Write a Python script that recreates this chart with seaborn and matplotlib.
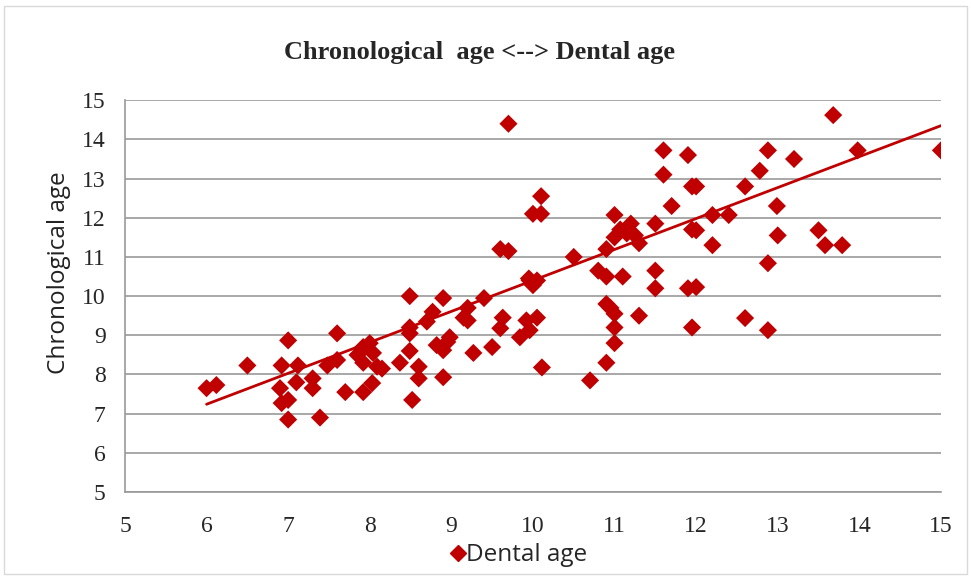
import matplotlib
matplotlib.use("Agg")
import matplotlib.pyplot as plt
import seaborn as sns
import numpy as np
import pandas as pd
from matplotlib.patches import Rectangle
from matplotlib.lines import Line2D

dental_age = [
    6.0, 6.12, 6.5, 6.92, 7.0, 7.12, 7.48, 7.6, 7.6, 6.9, 7.1, 7.3, 7.3, 6.92, 7.0, 7.0, 7.39,
    7.7, 7.92, 8.03, 7.92, 8.0, 8.04, 7.92, 8.09, 8.15, 7.85,
    8.49, 8.49, 8.49, 8.49, 8.37, 8.6, 8.6, 8.52, 8.9, 8.9, 8.77, 8.7, 8.82, 8.9, 8.98, 8.95,
    9.2, 9.2, 9.15, 9.4, 9.27, 9.5, 9.63, 9.6, 9.84, 9.96, 9.92, 10.05, 9.96, 10.0, 10.11,
    9.7, 9.6, 9.7, 10.0, 10.1, 10.1, 10.5, 9.95, 10.05,
    11.0, 11.07, 11.2, 11.3, 11.0, 10.9, 11.5, 11.7, 11.95, 11.95, 10.8, 10.9, 11.1, 11.5, 11.5,
    11.9, 10.9, 10.95, 11.0, 11.3, 11.0, 11.0, 10.9, 11.95, 10.7,
    11.9, 12.88, 13.2, 12.78, 12.6, 12.0, 12.2, 12.4, 12.99, 12.0, 12.2, 13.0, 13.5, 13.58, 13.79,
    12.88, 12.0, 12.6, 12.88, 13.68, 13.98, 15.0, 11.6, 11.6, 11.15, 11.25,
]
chronological_age = [
    7.65, 7.73, 8.23, 8.23, 8.87, 8.23, 8.23, 9.05, 8.37, 7.65, 7.8, 7.9, 7.65, 7.27, 7.35, 6.85, 6.9,
    7.55, 7.55, 7.78, 8.7, 8.8, 8.55, 8.3, 8.2, 8.15, 8.5,
    10.0, 9.2, 9.05, 8.6, 8.3, 8.2, 7.9, 7.35, 7.93, 9.95, 9.6, 9.35, 8.75, 8.62, 8.95, 8.83,
    9.7, 9.38, 9.45, 9.95, 8.55, 8.7, 9.45, 9.18, 8.95, 9.13, 9.38, 9.45, 10.4, 10.28, 8.18,
    14.4, 11.2, 11.15, 12.1, 12.55, 12.1, 11.0, 10.45, 10.4,
    12.07, 11.7, 11.85, 11.35, 11.5, 11.2, 11.85, 12.3, 12.8, 11.7, 10.65, 10.5, 10.5, 10.65, 10.2,
    10.2, 9.8, 9.7, 9.55, 9.5, 9.2, 8.8, 8.3, 9.2, 7.85,
    13.6, 13.72, 13.5, 13.2, 12.8, 12.8, 12.07, 12.07, 12.3, 11.68, 11.3, 11.55, 11.68, 11.3, 11.3,
    10.84, 10.23, 9.44, 9.13, 14.62, 13.72, 13.72, 13.72, 13.1, 11.6, 11.55,
]
# linear trendline shown in the chart
trend_slope = 0.79
trend_intercept = 2.5
x_ticks = [5, 6, 7, 8, 9, 10, 11, 12, 13, 14, 15]
y_ticks = [5, 6, 7, 8, 9, 10, 11, 12, 13, 14, 15]

df = pd.DataFrame({"Dental age": dental_age, "Chronological age": chronological_age})
trend_x = np.array([min(dental_age), max(dental_age)])
trend_df = pd.DataFrame({"x": trend_x, "y": trend_intercept + trend_slope * trend_x})

sns.set_style("white")
red = "#C00000"
fig = plt.figure(figsize=(9.71, 5.76), dpi=100)
ax = fig.add_axes([0.1287, 0.1458, 0.969 - 0.1287, 0.826 - 0.1458])

sns.scatterplot(data=df, x="Dental age", y="Chronological age", ax=ax,
                marker="D", color=red, s=85, edgecolor="none", zorder=3, legend=False)
sns.lineplot(data=trend_df, x="x", y="y", ax=ax, color=red, lw=2, zorder=4, legend=False)

ax.set_xlim(5, 15)
ax.set_ylim(5, 15)
ax.set_xticks(x_ticks)
ax.set_yticks(y_ticks)
ax.set_xticklabels([str(t) for t in x_ticks], family="Liberation Serif", fontsize=17)
ax.set_yticklabels([str(t) for t in y_ticks], family="Liberation Serif", fontsize=17)
ax.tick_params(axis="both", direction="out", length=5, width=1, color="#888888")
ax.tick_params(axis="x", pad=12)
ax.tick_params(axis="y", length=6, pad=8)
ax.yaxis.grid(True, color="#999999", lw=1.2)
ax.xaxis.grid(False)
ax.set_axisbelow(True)
for s in ["top", "right"]:
    ax.spines[s].set_visible(False)
for s in ["left", "bottom"]:
    ax.spines[s].set_color("#999999")
    ax.spines[s].set_linewidth(1.2)

ax.set_xlabel("")
ax.set_ylabel("Chronological age", family="Open Sans", fontsize=17.5, color="#222222")
ax.yaxis.set_label_coords(-0.066, 0.56)

fig.text(0.494, 0.908, "Chronological  age <--> Dental age", ha="center", va="center",
         family="Liberation Serif", fontweight="bold", fontsize=19)

handle = Line2D([], [], marker="D", color=red, lw=0, markersize=8)
fig.legend([handle], ["Dental age"], loc="center", bbox_to_anchor=(0.535, 0.036),
           frameon=False, prop=dict(family="Open Sans", size=17.5), handlelength=0.5,
           handletextpad=0.1)

fig.patches.append(Rectangle((0.004, 0.004), 0.992, 0.985, transform=fig.transFigure,
                             fill=False, edgecolor="#d9d9d9", lw=1))

fig.savefig("out.png", dpi=100)
